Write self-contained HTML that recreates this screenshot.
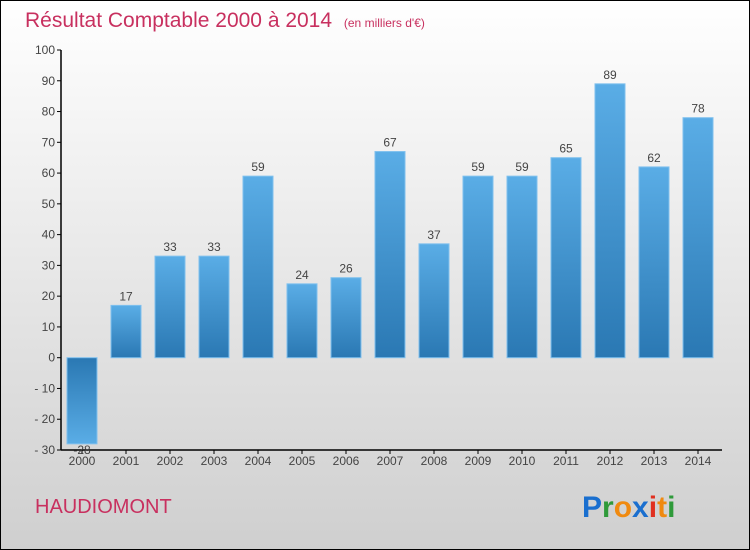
<!DOCTYPE html>
<html><head><meta charset="utf-8"><style>
body{margin:0;}
#wrap{width:750px;height:550px;position:relative;overflow:hidden;font-family:"Liberation Sans",sans-serif;}
</style></head><body>
<div id="wrap">
<svg id="chart" width="750" height="550" xmlns="http://www.w3.org/2000/svg">
<defs>
<linearGradient id="bg" x1="0" y1="0" x2="0" y2="1"><stop offset="0" stop-color="#ffffff"/><stop offset="1" stop-color="#cfcfcf"/></linearGradient>
<linearGradient id="pos" x1="0" y1="0" x2="0" y2="1"><stop offset="0" stop-color="#5aade6"/><stop offset="1" stop-color="#2a78b3"/></linearGradient>
<linearGradient id="neg" x1="0" y1="0" x2="0" y2="1"><stop offset="0" stop-color="#2a78b3"/><stop offset="1" stop-color="#5aade6"/></linearGradient>
</defs>
<rect x="0.5" y="0.5" width="749" height="549" fill="url(#bg)" stroke="#000"/>
<text x="25" y="27" font-size="21" fill="#c8305f">Résultat Comptable 2000 à 2014 <tspan font-size="12" dx="6">(en milliers d'€)</tspan></text>
<g id="grid"></g><g id="bars"></g><g id="axes"></g>
<text x="35" y="513" font-size="20" fill="#c8305f">HAUDIOMONT</text>
<text x="582" y="517" font-size="30" font-weight="bold"><tspan fill="#1a6fcf">P</tspan><tspan fill="#2f9a3a">r</tspan><tspan fill="#f08a10">o</tspan><tspan fill="#1a6fcf">x</tspan><tspan fill="#e03020">i</tspan><tspan fill="#f08a10">t</tspan><tspan fill="#2f9a3a">i</tspan></text>
</svg>
</div>
<script>
const years=["2000","2001","2002","2003","2004","2005","2006","2007","2008","2009","2010","2011","2012","2013","2014"];
const values=[-28,17,33,33,59,24,26,67,37,59,59,65,89,62,78];
const yTicks=[-30,-20,-10,0,10,20,30,40,50,60,70,80,90,100];
const NS="http://www.w3.org/2000/svg";
const yMin=-30,yMax=100,plotTop=50,plotBot=450;
function y(v){return plotBot-(v-yMin)/(yMax-yMin)*(plotBot-plotTop);}
function x(i){return 82+i*44;}
function mk(t,a,p){const e=document.createElementNS(NS,t);for(const k in a)e.setAttribute(k,a[k]);p.appendChild(e);return e;}
const axes=document.getElementById('axes'),bars=document.getElementById('bars');
const ya=mk('line',{x1:61,y1:plotTop,x2:61,y2:plotBot,stroke:'#000','stroke-width':1.5},axes);


const xa=mk('line',{x1:61,y1:plotBot,x2:722,y2:plotBot,stroke:'#000','stroke-width':1.5},axes);


yTicks.forEach(v=>{
 mk('line',{x1:57,y1:y(v),x2:61,y2:y(v),stroke:'#000'},axes);
 const t=mk('text',{x:55,y:y(v)+4,'font-size':12,fill:'#444','text-anchor':'end'},axes);
 t.textContent=(v<0?'- '+(-v):v);
 
 
});
years.forEach((yr,i)=>{
 const v=values[i],cx=x(i);
 const y0=y(0),y1=y(v);
 const r=mk('rect',{x:cx-15,y:Math.min(y0,y1),width:30,height:Math.abs(y1-y0),fill:v<0?'url(#neg)':'url(#pos)',stroke:'#7fc0ee','stroke-width':1},bars);
 
 
 mk('line',{x1:cx,y1:plotBot,x2:cx,y2:plotBot+4,stroke:'#000'},axes);
 const t=mk('text',{x:cx,y:plotBot+15,'font-size':12,fill:'#444','text-anchor':'middle'},axes);
 t.textContent=yr;
 
 
 const l=mk('text',{x:cx,y:v<0?y1+10:y1-5,'font-size':12,fill:'#444','text-anchor':'middle'},axes);
 l.textContent=v;
 
 
});
</script>
</body></html>
